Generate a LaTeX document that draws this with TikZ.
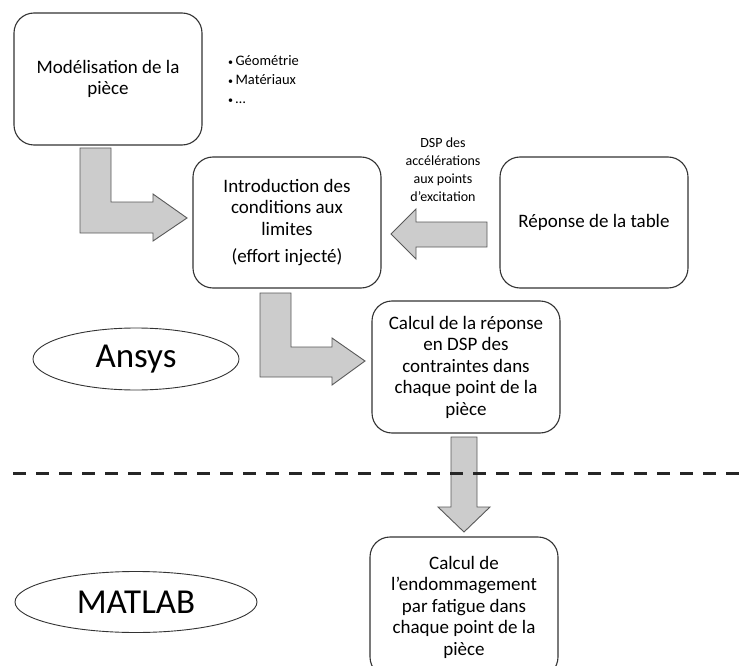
\documentclass[tikz,border=0pt]{standalone}
\usepackage{fontspec}
\setmainfont{Carlito}
\usetikzlibrary{shapes.geometric}
\begin{document}
\begin{tikzpicture}[x=1pt,y=-1pt,
 box/.style={draw=black!80, line width=1.1pt, rounded corners=20pt, minimum width=188pt, align=center, inner sep=0pt, font=\fontsize{19}{21.5}\selectfont},
 blockarrow/.style={draw=black!65, fill=black!20, line width=0.9pt},
 tool/.style={draw=black!80, line width=0.9pt, ellipse, inner sep=0pt, font=\fontsize{35}{40}\selectfont},
 note/.style={align=center, inner sep=0pt, font=\fontsize{14}{18}\selectfont},
 bullets/.style={align=left, inner sep=0pt, anchor=west, font=\fontsize{14.5}{19}\selectfont},
 sep/.style={line width=3pt, dash pattern=on 13pt off 10pt, black!85}]
\useasboundingbox (0,0) rectangle (750,666);

\node[box, minimum height=132pt] (model) at (108,79) {Modélisation de la\\pièce};
\node[box, minimum height=131pt] (intro) at (287,222.5) {Introduction des\\conditions aux\\limites\\[6pt](effort injecté)};
\node[box, minimum height=131pt] (table) at (594,222.5) {Réponse de la table};
\node[box, minimum height=132pt] (stress) at (466,367) {Calcul de la réponse\\en DSP des\\contraintes dans\\chaque point de la\\pièce};
\node[box, minimum height=140pt] (damage) at (464,607) {Calcul de\\l’endommagement\\par fatigue dans\\chaque point de la\\pièce};

\node[bullets] (list) at (228,80) {{\fontsize{10}{10}\selectfont•}\,Géométrie\\{\fontsize{10}{10}\selectfont•}\,Matériaux\\{\fontsize{10}{10}\selectfont•}\,…};
\node[note] (dsp) at (443,170) {DSP des\\accélérations\\aux points\\d’excitation};

\node[tool, minimum width=206pt, minimum height=62pt] (ansys) at (136,359) {Ansys};
\node[tool, minimum width=242pt, minimum height=61pt] (matlab) at (136,602) {MATLAB};

% block arrows
\draw[blockarrow] (80,148) -- (111,148) -- (111,202) -- (153,202) -- (153,194) -- (187,218) -- (153,241) -- (153,233) -- (80,233) -- cycle;
\draw[blockarrow] (487,222) -- (416,222) -- (416,209) -- (391,234) -- (416,259) -- (416,247) -- (487,247) -- cycle;
\draw[blockarrow] (260,293) -- (291,293) -- (291,347) -- (332,347) -- (332,338) -- (365,361) -- (332,385) -- (332,377) -- (260,377) -- cycle;
\draw[blockarrow] (451,437) -- (477,437) -- (477,507) -- (490,507) -- (464,532) -- (438,507) -- (451,507) -- cycle;

\coordinate (sepL) at (13,473);
\coordinate (sepR) at (748,473);
\draw[sep] (sepL) -- (sepR);
\end{tikzpicture}
\end{document}
